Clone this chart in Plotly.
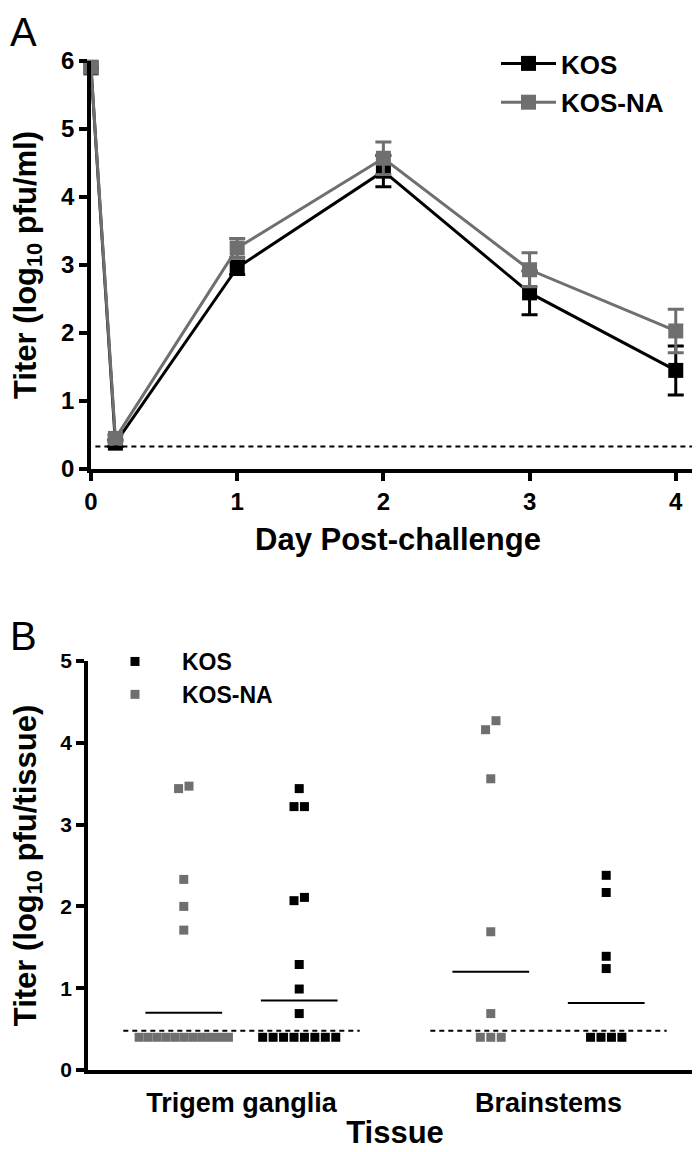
import plotly.graph_objects as go

# ---------------- Panel A data ----------------
days = [0, 0.167, 1, 2, 3, 4]
kos_mean = [5.90, 0.38, 2.96, 4.38, 2.59, 1.45]
kos_sem = [None, 0.05, 0.10, 0.23, 0.32, 0.36]
kosna_mean = [5.91, 0.45, 3.25, 4.57, 2.93, 2.03]
kosna_sem = [None, 0.05, 0.14, 0.24, 0.25, 0.32]
lod_a = 0.33
day_ticks = [0, 1, 2, 3, 4]
titer_ticks_a = [0, 1, 2, 3, 4, 5, 6]

# ---------------- Panel B data ----------------
tissues = ["Trigem ganglia", "Brainstems"]
tg_kosna = [3.44, 3.47, 2.33, 2.00, 1.71, 0.4, 0.4, 0.4, 0.4, 0.4, 0.4, 0.4, 0.4, 0.4, 0.4, 0.4]
tg_kos = [3.44, 3.22, 3.22, 2.07, 2.11, 1.29, 0.99, 0.69, 0.4, 0.4, 0.4, 0.4, 0.4, 0.4, 0.4, 0.4]
bs_kosna = [4.27, 4.16, 3.56, 1.69, 0.69, 0.4, 0.4, 0.4]
bs_kos = [2.38, 2.17, 1.39, 1.24, 0.4, 0.4, 0.4, 0.4]
mean_kosna = [0.70, 1.20]
mean_kos = [0.85, 0.82]
lod_b = 0.48
titer_ticks_b = [0, 1, 2, 3, 4, 5]

BLACK = "#000000"
GRAY = "#6f6f6f"
FONT = "Liberation Sans, Arial, sans-serif"


def swarm(center, values, d=0.034, thr=0.134, maxw=0.32):
    order = sorted(range(len(values)), key=lambda i: values[i])
    clusters = []
    for i in order:
        if clusters and values[i] - values[clusters[-1][-1]] < thr:
            clusters[-1].append(i)
        else:
            clusters.append([i])
    xs = [0.0] * len(values)
    for c in clusters:
        n = len(c)
        step = min(d, maxw / n)
        for k, i in enumerate(c):
            xs[i] = center + (k - (n - 1) / 2) * step
    return xs


fig = go.Figure()

# Panel A
fig.add_trace(go.Scatter(
    x=days, y=kos_mean, name="KOS", mode="lines+markers",
    line=dict(color=BLACK, width=3),
    marker=dict(symbol="square", size=15, color=BLACK),
    error_y=dict(type="data", array=kos_sem, visible=True, color=BLACK, thickness=3, width=8),
    xaxis="x", yaxis="y", legend="legend", legendgroup="a1", cliponaxis=False,
))
fig.add_trace(go.Scatter(
    x=days, y=kosna_mean, name="KOS-NA", mode="lines+markers",
    line=dict(color=GRAY, width=3),
    marker=dict(symbol="square", size=15, color=GRAY),
    error_y=dict(type="data", array=kosna_sem, visible=True, color=GRAY, thickness=3, width=8),
    xaxis="x", yaxis="y", legend="legend", legendgroup="a2", cliponaxis=False,
))
fig.add_trace(go.Scatter(
    x=[0.03, 4.2], y=[lod_a, lod_a], mode="lines",
    line=dict(color=BLACK, width=2, dash="5px,4px"),
    xaxis="x", yaxis="y", showlegend=False, hoverinfo="skip",
))

# Panel B
off = 0.188
groups = [
    (1 - off, tg_kosna, GRAY, "KOS-NA"),
    (1 + off, tg_kos, BLACK, "KOS"),
    (2 - off, bs_kosna, GRAY, "KOS-NA"),
    (2 + off, bs_kos, BLACK, "KOS"),
]
for c in [1, 2]:
    fig.add_trace(go.Scatter(
        x=[c - 0.385, c + 0.385], y=[lod_b, lod_b], mode="lines",
        line=dict(color=BLACK, width=2, dash="5px,4px"),
        xaxis="x2", yaxis="y2", showlegend=False, hoverinfo="skip",
    ))
for ci, c in enumerate([1, 2]):
    for cx, m in [(c - off, mean_kosna[ci]), (c + off, mean_kos[ci])]:
        fig.add_trace(go.Scatter(
            x=[cx - 0.125, cx + 0.125], y=[m, m], mode="lines",
            line=dict(color=BLACK, width=2),
            xaxis="x2", yaxis="y2", showlegend=False, hoverinfo="skip",
        ))

shown = set()
for center, vals, col, name in [groups[1], groups[0], groups[3], groups[2]]:
    fig.add_trace(go.Scatter(
        x=swarm(center, vals), y=vals, mode="markers", name=name,
        marker=dict(symbol="square", size=9, color=col),
        xaxis="x2", yaxis="y2", legend="legend2",
        showlegend=name not in shown, cliponaxis=False,
    ))
    shown.add(name)


def axis_style(tick_size):
    return dict(
        showline=True, linecolor=BLACK, linewidth=3.5, ticks="outside", ticklen=8,
        tickwidth=3.5, tickcolor=BLACK, showgrid=False, zeroline=False, automargin=False,
        tickfont=dict(family=FONT, size=tick_size, color=BLACK, weight="bold"),
    )


title_font = dict(family=FONT, size=31, color=BLACK, weight="bold")

H = 1152.0
W = 700.0
fig.update_layout(
    width=700, height=1152,
    margin=dict(l=0, r=0, t=0, b=0, autoexpand=False),
    paper_bgcolor="white", plot_bgcolor="white",
    showlegend=True,
    xaxis=dict(axis_style(24), domain=[83 / W, 697 / W], range=[0, 4.2], tickvals=day_ticks,
               anchor="y", title=dict(text="Day Post-challenge", font=title_font, standoff=16)),
    yaxis=dict(axis_style(24), domain=[1 - 461 / H, 1 - 53 / H], range=[0, 6], tickvals=titer_ticks_a,
               anchor="x", title=dict(text="Titer (log<sub>10</sub> pfu/ml)", font=title_font, standoff=24)),
    xaxis2=dict(axis_style(27), domain=[80 / W, 694 / W], range=[0.5, 2.5], tickvals=[1, 2],
                ticktext=tissues, tickcolor="rgba(0,0,0,0)", ticklen=6, anchor="y2",
                title=dict(text="Tissue", font=title_font, standoff=5)),
    yaxis2=dict(axis_style(21), domain=[1 - 1062 / H, 1 - 653 / H], range=[0, 5], tickvals=titer_ticks_b,
                anchor="x2", title=dict(text="Titer (log<sub>10</sub> pfu/tissue)", font=title_font, standoff=25)),
    legend=dict(x=488 / W, y=1 - 32 / H, xanchor="left", yanchor="top",
                font=dict(family=FONT, size=26, color=BLACK, weight="bold"),
                itemwidth=55, traceorder="grouped", tracegroupgap=2, bgcolor="rgba(0,0,0,0)"),
    legend2=dict(x=80 / W, y=1 - 632 / H, xanchor="left", yanchor="top",
                 font=dict(family=FONT, size=23, color=BLACK, weight="bold"),
                 itemwidth=84, bgcolor="rgba(0,0,0,0)"),
    annotations=[
        dict(text="A", x=0, y=1, xref="paper", yref="paper", xanchor="left", yanchor="top",
             showarrow=False, font=dict(family=FONT, size=40, color=BLACK), xshift=0, yshift=0),
        dict(text="B", x=0, y=1 - 604 / H, xref="paper", yref="paper", xanchor="left", yanchor="top",
             showarrow=False, font=dict(family=FONT, size=40, color=BLACK), xshift=0),
    ],
)

fig.write_html("out.html")
